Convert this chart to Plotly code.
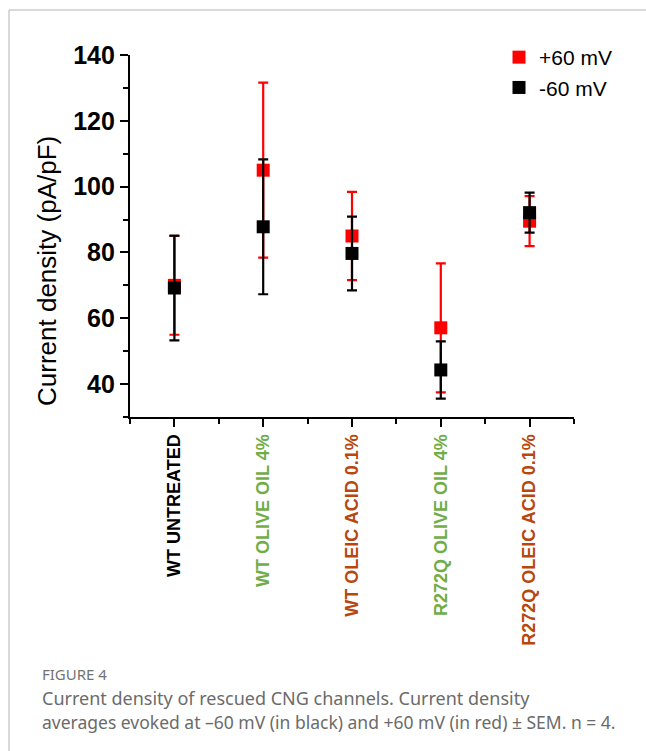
import plotly.graph_objects as go

categories = ["WT UNTREATED", "WT OLIVE OIL 4%", "WT OLEIC ACID 0.1%",
              "R272Q OLIVE OIL 4%", "R272Q OLEIC ACID 0.1%"]
label_colors = ["#000000", "#70AD47", "#B8470E", "#70AD47", "#B8470E"]
x_pos = [1, 2, 3, 4, 5]

pos60_mean = [70.0, 105.0, 85.0, 57.1, 89.5]
pos60_sem = [15.0, 26.6, 13.4, 19.6, 7.6]
neg60_mean = [69.2, 87.8, 79.7, 44.3, 92.1]
neg60_sem = [15.9, 20.5, 11.2, 8.7, 6.1]

W, H = 646, 751
L, R, T, B = 130, 574, 55, 417  # plot area in pixels


def px(x):
    return x / W


def py(y):
    return 1 - y / H


fig = go.Figure()
fig.add_trace(go.Scatter(
    x=x_pos, y=pos60_mean, mode="markers", name="+60 mV",
    marker=dict(symbol="square", size=13, color="#FF0000"),
    error_y=dict(type="data", array=pos60_sem, visible=True,
                 color="#FF0000", thickness=2.2, width=5),
))
fig.add_trace(go.Scatter(
    x=x_pos, y=neg60_mean, mode="markers", name="-60 mV",
    marker=dict(symbol="square", size=13, color="#000000"),
    error_y=dict(type="data", array=neg60_sem, visible=True,
                 color="#000000", thickness=2.2, width=5),
))

ticktext = [f'<span style="color:{c}">{t}</span>' for t, c in zip(categories, label_colors)]

fig.update_layout(
    template="none",
    width=W, height=H, autosize=False,
    margin=dict(l=0, r=0, t=0, b=0, pad=0),
    paper_bgcolor="white", plot_bgcolor="white",
    showlegend=True,
    legend=dict(x=px(499), y=py(37), xanchor="left", yanchor="top",
                font=dict(family="Liberation Sans, Arial", size=21, color="#000"),
                bgcolor="rgba(0,0,0,0)", tracegroupgap=0, itemwidth=30),
    xaxis=dict(
        domain=[px(L), px(R)], range=[0.5, 5.5], automargin=False,
        tickmode="array", tickvals=x_pos, ticktext=ticktext, tickangle=-90,
        tickfont=dict(family="Liberation Sans, Arial", size=18, weight="bold"),
        showline=True, linecolor="black", linewidth=2.2,
        ticks="outside", ticklen=8, tickwidth=2, tickcolor="black",
        minor=dict(dtick=0.5, tick0=0.5, ticks="outside", ticklen=5, tickwidth=2, tickcolor="black"),
        showgrid=False, zeroline=False, mirror=False,
    ),
    yaxis=dict(
        domain=[py(B), py(T)], range=[30, 140], automargin=False,
        tickmode="linear", tick0=40, dtick=20,
        tickfont=dict(family="Liberation Sans, Arial", size=25, weight="bold", color="black"),
        showline=True, linecolor="black", linewidth=2.2,
        ticks="outside", ticklen=8, tickwidth=2, tickcolor="black",
        minor=dict(dtick=10, tick0=30, ticks="outside", ticklen=5, tickwidth=2, tickcolor="black"),
        showgrid=False, zeroline=False,
    ),
)

fig.add_annotation(
    x=px(47), y=py(271), xref="paper", yref="paper", showarrow=False,
    text="Current density (pA/pF)", textangle=-90,
    font=dict(family="Liberation Sans, Arial", size=26, color="black"),
    xanchor="center", yanchor="middle",
)

cap_font = "Noto Sans, Open Sans, sans-serif"
fig.add_annotation(x=px(41), y=py(674), xref="paper", yref="paper", showarrow=False,
                   text="FIGURE 4", xanchor="left", yanchor="middle", borderpad=0,
                   font=dict(family=cap_font, size=15, color="#737373"))
fig.add_annotation(x=px(41), y=py(698), xref="paper", yref="paper", showarrow=False,
                   text="Current density of rescued CNG channels. Current density",
                   xanchor="left", yanchor="middle", borderpad=0,
                   font=dict(family=cap_font, size=18, color="#6b6b6b"))
fig.add_annotation(x=px(41), y=py(722), xref="paper", yref="paper", showarrow=False,
                   text="averages evoked at \u201360 mV (in black) and +60 mV (in red) \u00b1 SEM. n = 4.",
                   xanchor="left", yanchor="middle", borderpad=0,
                   font=dict(family=cap_font, size=17.5, color="#6b6b6b"))

# page frame lines
fig.add_shape(type="line", xref="paper", yref="paper",
              x0=px(9), x1=1, y0=py(10), y1=py(10), line=dict(color="#cccccc", width=1.5))
fig.add_shape(type="line", xref="paper", yref="paper",
              x0=px(9), x1=px(9), y0=py(10), y1=0, line=dict(color="#cccccc", width=1.5))

fig.write_html("out.html", config={"displayModeBar": False},
               post_script="document.body.style.margin='0';document.body.style.overflow='hidden';")
